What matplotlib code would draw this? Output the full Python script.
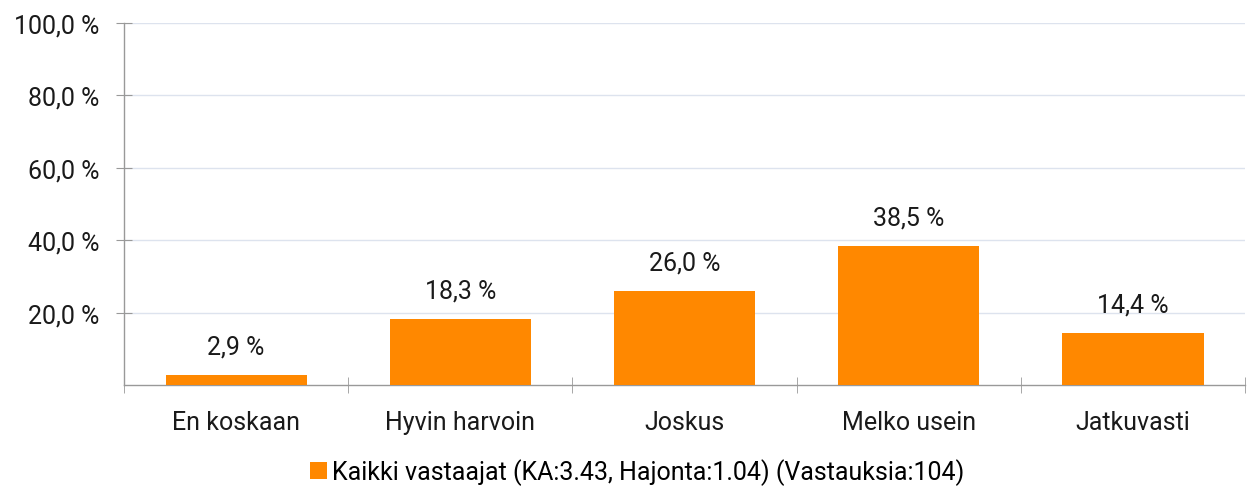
import matplotlib.pyplot as plt
import numpy as np

plt.rcParams['font.family'] = ['Roboto', 'DejaVu Sans']

categories = ["En koskaan", "Hyvin harvoin", "Joskus", "Melko usein", "Jatkuvasti"]
values = [2.9, 18.3, 26.0, 38.5, 14.4]
series_label = "Kaikki vastaajat (KA:3.43, Hajonta:1.04) (Vastauksia:104)"
yticks = [20, 40, 60, 80, 100]

fig = plt.figure(figsize=(12.49, 4.89), dpi=100)
ax = fig.add_axes([0.0993, 0.2106, 0.8975, 0.7404])

fs = 18
x = np.arange(len(categories))
ax.bar(x, values, width=0.63, color="#ff8800", label=series_label, zorder=3)

for xi, v in zip(x, values):
    ax.text(xi, v + 4.5, f"{v:.1f} %".replace(".", ","), ha="center", va="bottom",
            fontsize=fs, color="#1a1a1a")

ax.set_xlim(-0.5, len(categories) - 0.5)
ax.set_ylim(0, 100)
ax.set_yticks(yticks)
ax.set_yticklabels([f"{t:.1f} %".replace(".", ",") for t in yticks], fontsize=fs, color="#1a1a1a")
ax.set_xticks(x)
ax.set_xticklabels(categories, fontsize=fs, color="#1a1a1a")
ax.set_xticks(np.arange(-0.5, len(categories)), minor=True)
ax.tick_params(axis="x", which="major", length=0, pad=18)
ax.tick_params(axis="x", which="minor", length=11.5, color="#999999", direction="inout")
ax.tick_params(axis="y", length=11.5, color="#999999", direction="inout", pad=12)
ax.yaxis.grid(True, color="#dde3ee", linewidth=1, zorder=0)

for side in ["top", "right"]:
    ax.spines[side].set_visible(False)
for side in ["left", "bottom"]:
    ax.spines[side].set_color("#999999")
    ax.spines[side].set_linewidth(1)

fig.legend(loc="lower center", bbox_to_anchor=(0.51, -0.04), frameon=False,
           fontsize=fs, handlelength=0.7, handleheight=0.7, handletextpad=0.2)

fig.savefig("out.png", dpi=100)
